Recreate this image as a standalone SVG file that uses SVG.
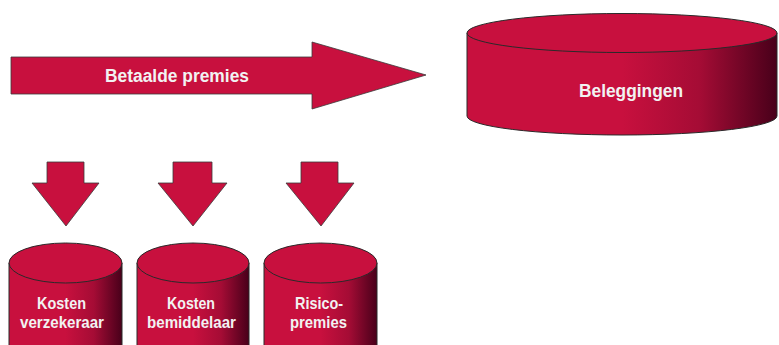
<svg xmlns="http://www.w3.org/2000/svg" width="779" height="345" viewBox="0 0 779 345">
<defs>
<linearGradient id="side" x1="0" y1="0" x2="1" y2="0">
<stop offset="0" stop-color="#C8103E"/>
<stop offset="0.5" stop-color="#C8103E"/>
<stop offset="0.75" stop-color="#A50C35"/>
<stop offset="1" stop-color="#48001A"/>
</linearGradient>
<style>
.side{fill:url(#side);stroke:#2a2a2a;stroke-width:1}
.top{fill:#C8103E;stroke:#2a2a2a;stroke-width:1}
.arrow{fill:#C8103E;stroke:#3a3a3a;stroke-width:0.8}
.lbl{font-family:"Liberation Sans",Arial,sans-serif;font-weight:bold;fill:#f2f2f2;text-anchor:middle}
</style>
</defs>
<rect width="779" height="345" fill="#ffffff"/>
<g id="connectors">
<polygon class="arrow" points="11,57 312,57 312,42 426,75 312,109 312,94 11,94"/>
<polygon class="arrow" points="47,162 84,162 84,183 99,183 66,226 32,183 47,183"/>
<polygon class="arrow" points="173,162 212,162 212,183 227,183 193,226 158,183 173,183"/>
<polygon class="arrow" points="301,162 338,162 338,183 354,183 321,226 286,183 301,183"/>
<text class="lbl" x="177" y="82" font-size="18" textLength="144" lengthAdjust="spacingAndGlyphs">Betaalde premies</text>
</g>
<g id="beleggingen">
<path class="side" d="M467,33 L467,116 A155,19 0 0 0 777,116 L777,33 Z"/>
<ellipse class="top" cx="622" cy="33" rx="155" ry="19.5"/>
<text class="lbl" x="631" y="97" font-size="18" textLength="104" lengthAdjust="spacingAndGlyphs">Beleggingen</text>
</g>
<g id="kosten-verzekeraar">
<path class="side" d="M9,263 L9,350 L122,350 L122,263 Z"/>
<ellipse class="top" cx="65.5" cy="263" rx="56.5" ry="20"/>
<text class="lbl" x="61.5" y="309" font-size="16.5" textLength="49" lengthAdjust="spacingAndGlyphs">Kosten</text>
<text class="lbl" x="62" y="328" font-size="16.5" textLength="84" lengthAdjust="spacingAndGlyphs">verzekeraar</text>
</g>
<g id="kosten-bemiddelaar">
<path class="side" d="M137,263 L137,350 L249,350 L249,263 Z"/>
<ellipse class="top" cx="193" cy="263" rx="56" ry="20"/>
<text class="lbl" x="191" y="309" font-size="16.5" textLength="48" lengthAdjust="spacingAndGlyphs">Kosten</text>
<text class="lbl" x="191.5" y="328" font-size="16.5" textLength="89" lengthAdjust="spacingAndGlyphs">bemiddelaar</text>
</g>
<g id="risicopremies">
<path class="side" d="M264,263 L264,350 L377,350 L377,263 Z"/>
<ellipse class="top" cx="320.5" cy="263" rx="56.5" ry="20"/>
<text class="lbl" x="319" y="309" font-size="16.5" textLength="48" lengthAdjust="spacingAndGlyphs">Risico-</text>
<text class="lbl" x="318.5" y="328" font-size="16.5" textLength="57" lengthAdjust="spacingAndGlyphs">premies</text>
</g>
</svg>
